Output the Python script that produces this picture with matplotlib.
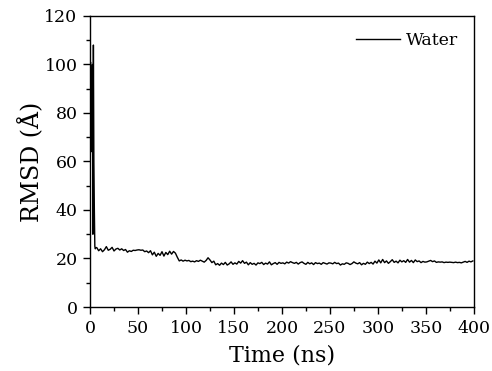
import numpy as np
import matplotlib
matplotlib.use("Agg")
import matplotlib.pyplot as plt
from matplotlib.ticker import MultipleLocator

plt.rcParams['font.family'] = ['DejaVu Serif']
plt.rcParams['mathtext.fontset'] = 'dejavuserif'

# initial spike (first ~6 ns)
spike_t = [0, 0.5, 1, 1.5, 2, 2.5, 3, 3.5, 4, 4.5, 5, 5.5, 6]
spike_v = [2, 101, 75, 98, 64, 100, 30, 108, 60, 40, 25, 24, 24.5]

# rest of trajectory, one value every 2 ns from 7 ns
rmsd_v = [
    24.5, 23.2, 24.0, 22.8, 23.6, 24.9, 23.4,
    23.8, 24.6, 23.1, 23.9, 24.2, 23.5, 24.0, 23.3, 23.7, 22.6, 23.2, 22.9, 23.4, 23.3, 23.5,
    23.6, 23.4, 23.5, 22.8, 23.1,
    22.4, 23.2, 21.5, 22.6, 20.9, 22.1, 21.3, 22.8, 21.0, 22.5, 21.6, 23.0, 21.8, 22.9, 22.2,
    20.5, 19.0, 19.4, 18.9, 19.3, 19.0, 19.2, 18.7, 18.9, 18.6, 19.1, 18.8, 19.3, 18.9, 18.5,
    19.2, 20.3, 19.4, 18.3, 18.9, 17.4, 17.9, 17.2, 18.1, 17.5, 18.4, 17.3, 17.8, 18.6, 17.6,
    18.2, 17.7, 18.8, 18.1, 19.1, 18.0, 18.5, 17.4, 18.3, 17.6, 18.0, 17.3, 18.2, 17.9, 18.4,
    17.5, 18.1, 17.7, 18.6, 17.4, 17.9, 18.3, 17.6, 18.4, 18.0, 18.2, 17.8, 18.5, 18.1, 18.7,
    18.3, 18.0, 18.4, 17.7, 18.3, 18.6, 18.0, 17.6, 18.4, 17.8, 18.2, 17.5, 18.3, 17.9, 18.1,
    17.6, 18.3, 18.0, 17.7, 18.2, 18.1, 17.8, 18.4, 17.9, 18.1, 17.3, 17.8, 17.6, 18.2, 18.0,
    17.5, 17.9, 18.6, 18.1, 17.8, 18.3, 17.4, 18.0, 17.6, 18.5, 17.9, 18.4, 17.7, 18.9, 18.1,
    19.4, 18.2, 19.6, 18.3, 19.0, 18.0, 18.7, 19.5, 18.4, 18.9, 18.2, 19.3, 18.6, 19.1, 18.4,
    19.6, 18.5, 19.2, 18.3, 19.4, 18.7, 19.0, 18.3, 18.8, 18.5, 18.6, 18.9, 19.2, 18.7, 19.0,
    18.4, 18.6, 18.5, 18.6, 18.3, 18.5, 18.4, 18.5, 18.4, 18.3, 18.5, 18.3, 18.4, 18.2, 18.5,
    18.8, 18.4, 18.9, 18.6, 19.0,
]
rmsd_t = np.arange(7, 7 + 2 * len(rmsd_v), 2)

time = np.concatenate([spike_t, rmsd_t])
rmsd = np.concatenate([spike_v, rmsd_v])

fig = plt.figure(figsize=(4.92, 3.71), dpi=100)
ax = fig.add_axes([0.183, 0.1725, 0.78, 0.7845])

ax.plot(time, rmsd, color='black', lw=1.0, label='Water')

ax.set_xlim(0, 400)
ax.set_ylim(0, 120)
ax.xaxis.set_major_locator(MultipleLocator(50))
ax.xaxis.set_minor_locator(MultipleLocator(25))
ax.yaxis.set_major_locator(MultipleLocator(20))
ax.yaxis.set_minor_locator(MultipleLocator(10))
ax.tick_params(which='major', direction='out', length=5, width=1, labelsize=12.5, pad=4)
ax.tick_params(which='minor', direction='out', length=3, width=1)
ax.tick_params(top=False, right=False)
for s in ax.spines.values():
    s.set_linewidth(1)

ax.set_xlabel('Time (ns)', fontsize=16, labelpad=6)
ax.set_ylabel('RMSD (Å)', fontsize=17, labelpad=0)

ax.legend(loc='upper right', frameon=False, fontsize=12.5, handlelength=2.5,
          handletextpad=0.35, borderaxespad=0.5)

fig.savefig('out.png', dpi=100)
